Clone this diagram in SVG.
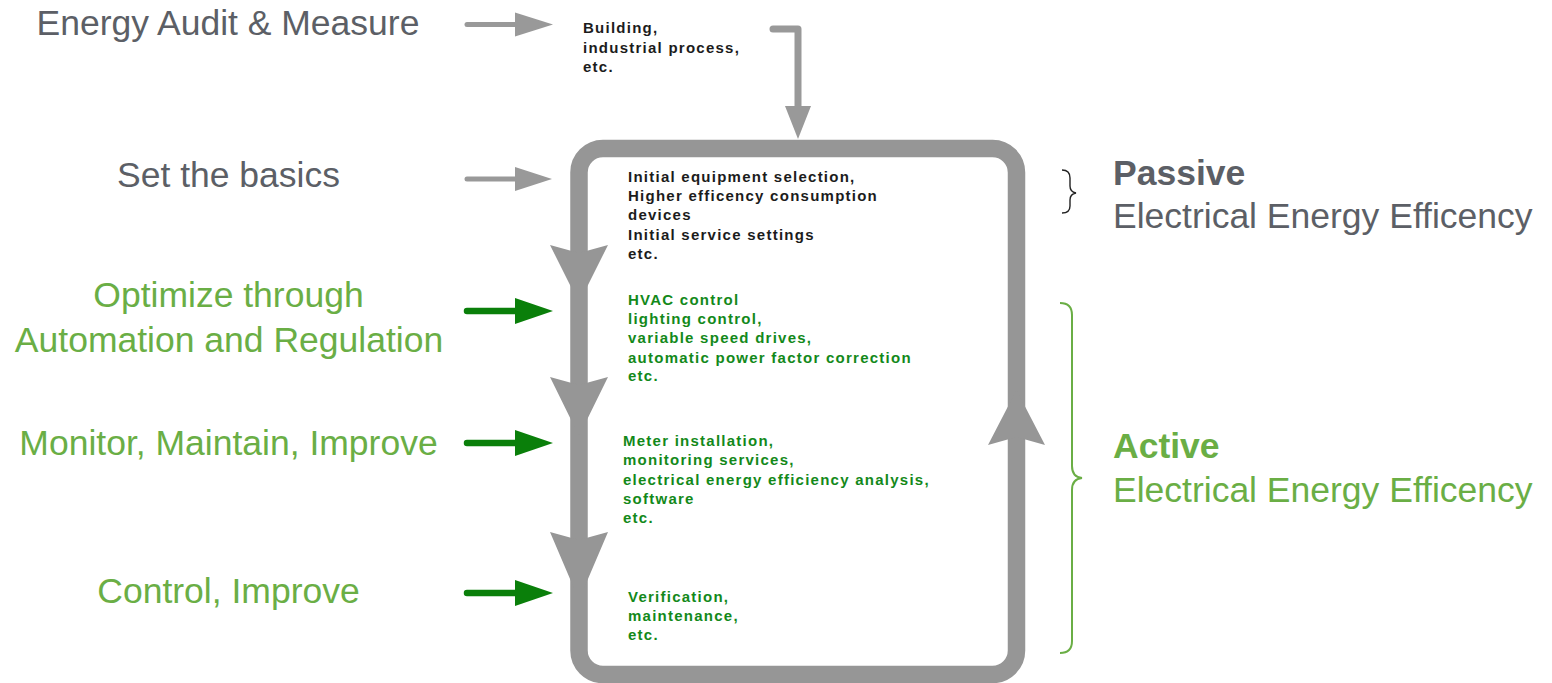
<svg xmlns="http://www.w3.org/2000/svg" width="1552" height="683" viewBox="0 0 1552 683">
<style>
.lbl{font-family:"Liberation Sans",Arial,sans-serif;font-size:35.5px;text-anchor:middle}
.rl{font-family:"Liberation Sans",Arial,sans-serif;font-size:35.5px}
.gray{fill:#5c5f66}
.green{fill:#6aae45}
.small{font-family:"Liberation Sans",Arial,sans-serif;font-size:15px;font-weight:bold;letter-spacing:1.25px}
.blk{fill:#1c1c1c}
.dg{fill:#13891a}
.garr{stroke:#999999;stroke-width:5;stroke-linecap:round;fill:none}
.gah{fill:#999999}
.grarr{stroke:#0a7f0a;stroke-width:6.5;stroke-linecap:round;fill:none}
.grah{fill:#0a7f0a}
.loop{fill:none;stroke:#969696;stroke-width:17.5}
.lah{fill:#969696}
</style>
<rect width="1552" height="683" fill="#ffffff"/>

<g id="connectors">
  <!-- big loop -->
  <rect class="loop" x="579" y="148.5" width="437.5" height="526" rx="24" ry="24"/>
  <!-- loop arrowheads (left, down) -->
  <polygon class="lah" points="550,245 579,253 608,245 579,303"/>
  <polygon class="lah" points="550,377 579,385 608,377 579,436"/>
  <polygon class="lah" points="550,532 579,540 608,532 579,600"/>
  <!-- loop arrowhead (right, up) -->
  <polygon class="lah" points="988,445 1016.5,437 1045,445 1016.5,390"/>
  <!-- top feed arrow -->
  <path d="M773,29 H798 V110" fill="none" stroke="#999999" stroke-width="7" stroke-linecap="round" stroke-linejoin="round"/>
  <polygon class="gah" points="785,106 811,106 798,139"/>
  <!-- gray side arrows -->
  <line class="garr" x1="467" y1="24.5" x2="518" y2="24.5"/>
  <polygon class="gah" points="515,12.5 553,24.5 515,36.5"/>
  <line class="garr" x1="467" y1="179" x2="518" y2="179"/>
  <polygon class="gah" points="515,167 552,179 515,191"/>
  <!-- green side arrows -->
  <line class="grarr" x1="467" y1="311" x2="518" y2="311"/>
  <polygon class="grah" points="515,298 553,311 515,324"/>
  <line class="grarr" x1="467" y1="443" x2="518" y2="443"/>
  <polygon class="grah" points="515,430 553,443 515,456"/>
  <line class="grarr" x1="467" y1="593" x2="518" y2="593"/>
  <polygon class="grah" points="515,580 553,593 515,606"/>
</g>

<g id="label-audit"><text class="lbl gray" x="228" y="35">Energy Audit &amp; Measure</text></g>
<g id="label-basics"><text class="lbl gray" x="228.5" y="187">Set the basics</text></g>
<g id="label-optimize">
  <text class="lbl green" x="228.5" y="307">Optimize through</text>
  <text class="lbl green" x="229" y="352">Automation and Regulation</text>
</g>
<g id="label-monitor"><text class="lbl green" x="228.5" y="455">Monitor, Maintain, Improve</text></g>
<g id="label-control"><text class="lbl green" x="228.5" y="603">Control, Improve</text></g>

<g id="box-building" class="small blk">
  <text x="583" y="33">Building,</text>
  <text x="583" y="52.5">industrial process,</text>
  <text x="583" y="72">etc.</text>
</g>
<g id="box-passive" class="small blk">
  <text x="628" y="182">Initial equipment selection,</text>
  <text x="628" y="201">Higher efficency consumption</text>
  <text x="628" y="220">devices</text>
  <text x="628" y="240">Initial service settings</text>
  <text x="628" y="259">etc.</text>
</g>
<g id="box-hvac" class="small dg">
  <text x="628" y="305">HVAC control</text>
  <text x="628" y="324">lighting control,</text>
  <text x="628" y="343">variable speed drives,</text>
  <text x="628" y="362.5">automatic power factor correction</text>
  <text x="628" y="381">etc.</text>
</g>
<g id="box-meter" class="small dg">
  <text x="623" y="446">Meter installation,</text>
  <text x="623" y="465">monitoring services,</text>
  <text x="623" y="485">electrical energy efficiency analysis,</text>
  <text x="623" y="504">software</text>
  <text x="623" y="523">etc.</text>
</g>
<g id="box-verification" class="small dg">
  <text x="628" y="602">Verification,</text>
  <text x="628" y="620.5">maintenance,</text>
  <text x="628" y="639.5">etc.</text>
</g>

<g id="passive">
  <path d="M1062,170 Q1070,170 1070,178 V186 Q1070,192 1076,193 Q1070,194 1070,200 V206 Q1070,213 1062,213" fill="none" stroke="#222222" stroke-width="1.4"/>
  <text class="rl gray" x="1113" y="185" font-weight="bold">Passive</text>
  <text class="rl gray" x="1113" y="228">Electrical Energy Efficency</text>
</g>
<g id="active">
  <path d="M1060,303 Q1072,303 1072,315 V466 Q1072,477 1082,478 Q1072,479 1072,490 V641 Q1072,653 1060,653" fill="none" stroke="#6aae45" stroke-width="2"/>
  <text class="rl green" x="1113" y="458" font-weight="bold">Active</text>
  <text class="rl green" x="1113" y="502">Electrical Energy Efficency</text>
</g>
</svg>
